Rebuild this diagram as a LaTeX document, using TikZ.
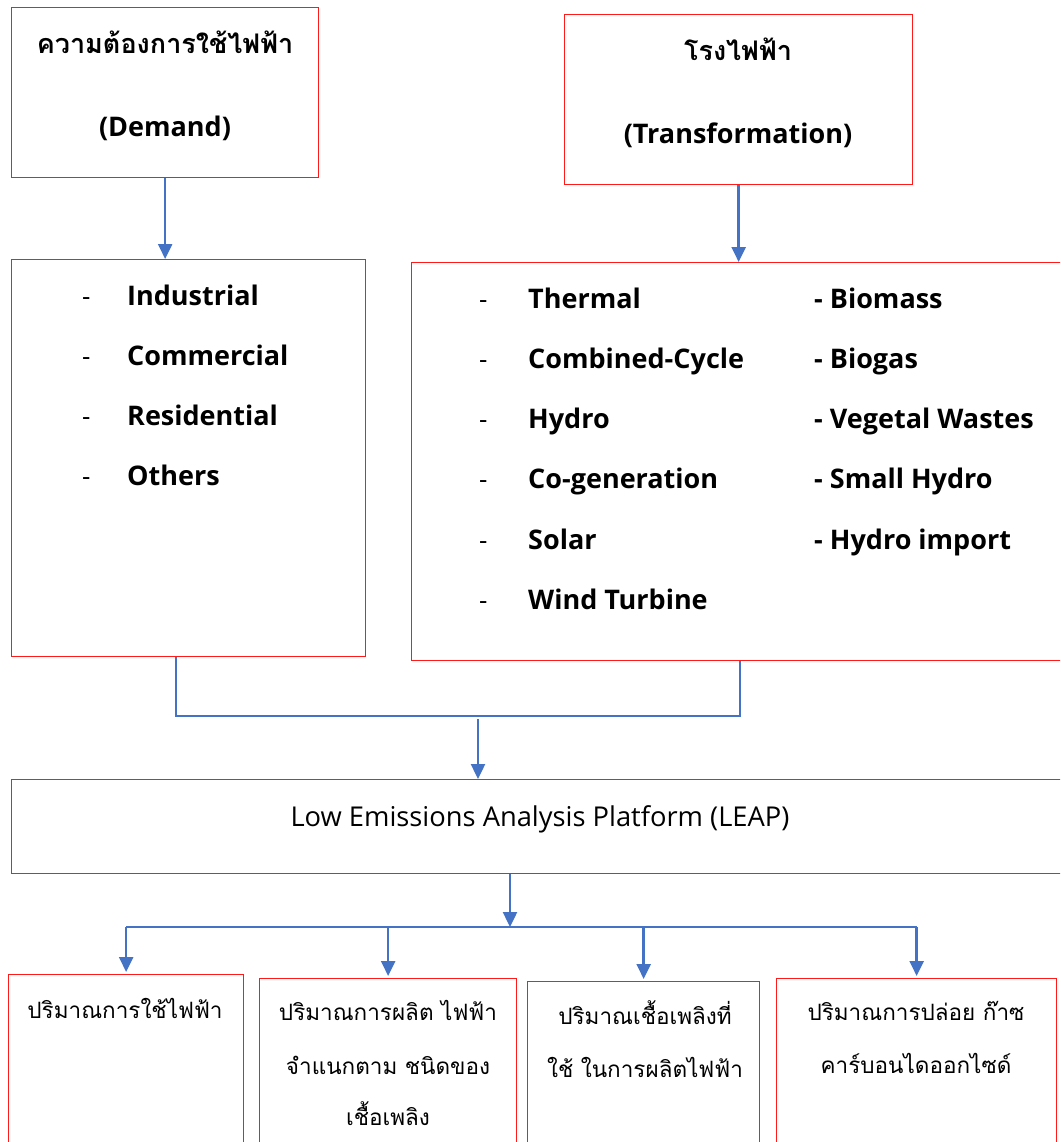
\documentclass[tikz,border=0pt]{standalone}
\usepackage{fontspec}
\setmainfont{Open Sans}
\newfontfamily\thaifont[Script=Thai]{Loma}
\newfontfamily\leapfont{Open Sans}
\usetikzlibrary{arrows.meta}
\definecolor{boxred}{HTML}{FF1A1A}
\definecolor{conblue}{HTML}{4472C4}
\tikzset{
  box/.style={draw=boxred, line width=1.3pt, anchor=north west, inner sep=0pt},
  arr/.style={draw=conblue, line width=2.4pt, -{Triangle[length=15pt,width=14pt]}},
  bus/.style={draw=conblue, line width=1.1pt},
  ttl/.style={font=\fontsize{27}{30}\selectfont\bfseries, anchor=base, inner sep=0pt},
  itemtxt/.style={font=\fontsize{27}{30}\selectfont\bfseries, anchor=base west, inner sep=0pt},
  itemdash/.style={font=\fontsize{26}{30}\selectfont, anchor=base west, inner sep=0pt},
  outtxt/.style={font=\thaifont\fontsize{22.5}{26}\selectfont, anchor=base, inner sep=0pt},
}
\begin{document}
\begin{tikzpicture}[x=1pt,y=-1pt]
\useasboundingbox (0,0) rectangle (1060,1142);
\clip (0,0) rectangle (1060,1142);
\fill[white] (0,0) rectangle (1060,1142);

% top boxes
\node[box, minimum width=307pt, minimum height=170pt] (dem) at (11,7) {};
\node[ttl] (demT1) at (165,54) {\thaifont ความต้องการใช้ไฟฟ้า};
\node[ttl] (demT2) at (165,137) {(Demand)};

\node[box, minimum width=348pt, minimum height=170pt] (tra) at (564,14) {};
\node[ttl] (traT1) at (738,61) {\thaifont โรงไฟฟ้า};
\node[ttl] (traT2) at (738,144) {(Transformation)};

% list boxes
\node[box, minimum width=354pt, minimum height=397pt] (llist) at (11,259) {};
\foreach \t [count=\i] in {Industrial,Commercial,Residential,Others}{
  \node[itemdash] (ld\i) at (82,{305+60.3*(\i-1)}) {-};
  \node[itemtxt] (lt\i) at (127,{305+60.3*(\i-1)}) {\t};
}

\node[box, minimum width=670pt, minimum height=398pt] (rlist) at (411,262) {};
\foreach \t [count=\i] in {Thermal,Combined-Cycle,Hydro,Co-generation,Solar,Wind Turbine}{
  \node[itemdash] (rd\i) at (479,{308+60.3*(\i-1)}) {-};
  \node[itemtxt] (rt\i) at (528,{308+60.3*(\i-1)}) {\t};
}
\foreach \t [count=\i] in {Biomass,Biogas,Vegetal Wastes,Small Hydro,Hydro import}{
  \node[itemtxt] (rc\i) at (814,{308+60.3*(\i-1)}) {- \t};
}

% arrows from top boxes
\draw[arr] (dem.south) -- (dem.south |- llist.north);
\draw[arr] (tra.south) -- (tra.south |- rlist.north);

% merge bus
\coordinate (jl) at (176,716);
\coordinate (jr) at (740,716);
\coordinate (ja) at (478,719);
\draw[bus] (jl |- llist.south) -- (jl) -- (jr) -- (jr |- rlist.south);

% LEAP
\node[box, minimum width=1070pt, minimum height=94pt] (leap) at (11,779) {};
\node[font=\leapfont\fontsize{27.3}{30}\selectfont, anchor=base, inner sep=0pt] (leapT) at (540,826) {Low Emissions Analysis Platform (LEAP)};
\draw[arr] (ja) -- (ja |- leap.north);

% output boxes
\node[box, minimum width=235pt, minimum height=200pt] (o1) at (8,974) {};
\node[box, minimum width=257pt, minimum height=200pt] (o2) at (259,978) {};
\node[box, minimum width=232pt, minimum height=200pt] (o3) at (527,981) {};
\node[box, minimum width=280pt, minimum height=200pt] (o4) at (776,978) {};

\node[outtxt] (o1a) at (125,1018) {ปริมาณการใช้ไฟฟ้า};
\node[outtxt] (o2a) at (388,1020) {ปริมาณการผลิต ไฟฟ้า};
\node[outtxt] (o2b) at (388,1074) {จำแนกตาม ชนิดของ};
\node[outtxt] (o2c) at (388,1125) {เชื้อเพลิง};
\node[outtxt] (o3a) at (645,1024) {ปริมาณเชื้อเพลิงที่};
\node[outtxt] (o3b) at (645,1077) {ใช้ ในการผลิตไฟฟ้า};
\node[outtxt] (o4a) at (916,1020) {ปริมาณการปล่อย ก๊าซ};
\node[outtxt] (o4b) at (916,1073) {คาร์บอนไดออกไซด์};

% distribution bus
\coordinate (lp) at (510,927);
\draw[arr] (lp |- leap.south) -- (lp);
\draw[bus] (o1.north |- lp) -- (o4.north |- lp);
\foreach \b in {o1,o2,o3,o4}{
  \draw[arr] (\b.north |- lp) -- ([yshift=2pt]\b.north);
}
\end{tikzpicture}
\end{document}
